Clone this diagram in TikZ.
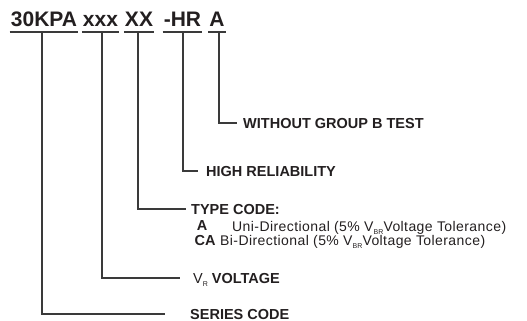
\documentclass[tikz,border=0pt]{standalone}
\usepackage{fontspec}
\setmainfont{Liberation Sans}
\newfontfamily\descfont[LetterSpace=3]{Liberation Sans}
\usetikzlibrary{positioning}
\definecolor{colour_ink}{HTML}{231f20}
\definecolor{colour_line}{HTML}{3a3a3a}
\newcommand{\lowsub}[1]{\raisebox{-3pt}{\fontsize{7}{8}\selectfont #1}}

\begin{document}
\begin{tikzpicture}[
    x=1pt, y=-1pt,
    part/.style={font=\fontsize{21}{24}\selectfont\bfseries, text=colour_ink,
                 inner xsep=1pt, inner ysep=5pt, text depth=0pt, anchor=base},
    underline/.style={line width=1.6pt, colour_line},
    leader/.style={line width=1.1pt, colour_line},
    field/.style={font=\fontsize{14.5}{16}\selectfont\bfseries, text=colour_ink,
                  inner sep=0pt, text depth=0pt},
    desc/.style={font=\descfont\fontsize{14}{15}\selectfont, text=colour_ink,
                 inner sep=0pt, text height=10pt, text depth=0pt}
]
\useasboundingbox (0,0) rectangle (527,321);

% Part number pieces
\node[part] (series) at (44,27) {30KPA};
\node[part] (voltage) at (100.5,27) {xxx};
\node[part] (type) at (139,27) {XX};
\node[part] (rel) at (182.5,27) {-HR};
\node[part] (test) at (217,27) {A};

% Underlines and leaders
\foreach \p/\x/\y/\e in {series/42/314/165, voltage/102/278/180,
                         type/138/209/186, rel/183/171/198, test/219/123/237} {
  \draw[underline] (\p.south west) -- (\p.south east);
  \coordinate (c\p) at (\x,\y);
  \coordinate (e\p) at (\e,\y);
  \draw[leader] (c\p |- \p.south) -- (c\p) -- (e\p);
}

% Field labels
\node[field, right=6pt of etest] (testtag) {WITHOUT GROUP B TEST};
\node[field, right=8pt of erel] (reltag) {HIGH RELIABILITY};
\node[field, right=5pt of etype] (typetag) {TYPE CODE:};
\node[field, right=13pt of evoltage] (voltagetag)
     {{\mdseries V\lowsub{R}} VOLTAGE};
\node[field, right=25pt of eseries] (seriestag) {SERIES CODE};

% Type code options
\node[field] (unicode) at (202,226) {A};
\node[desc, anchor=west] (unitext) at (232,226)
     {Uni-Directional (5\% V\lowsub{BR}Voltage Tolerance)};
\node[field] (bicode) at (205,240) {CA};
\node[desc, anchor=west] (bitext) at (220,240)
     {Bi-Directional (5\% V\lowsub{BR}Voltage Tolerance)};

\end{tikzpicture}
\end{document}
